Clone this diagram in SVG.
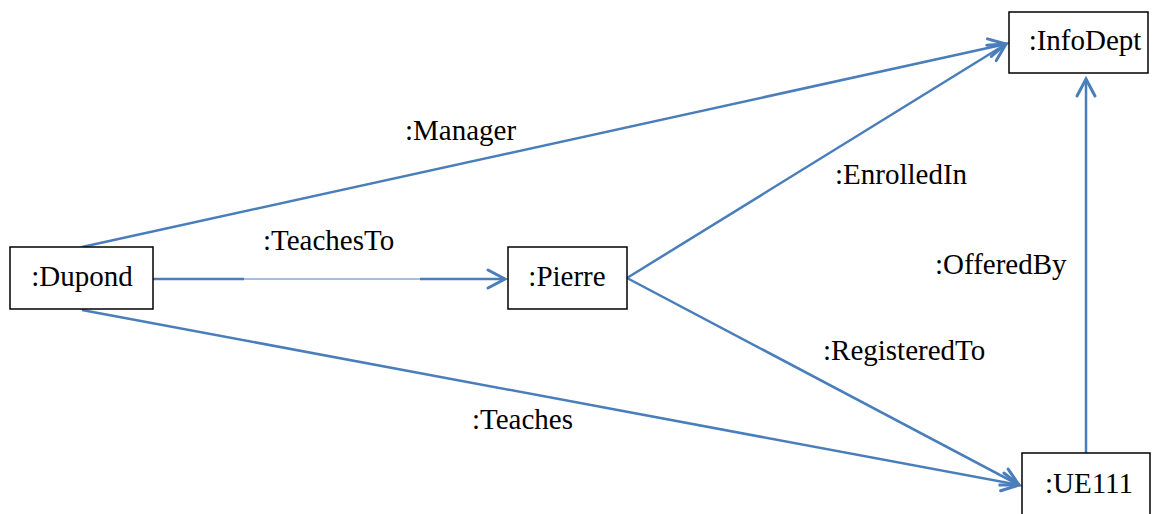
<svg xmlns="http://www.w3.org/2000/svg" width="1157" height="514" viewBox="0 0 1157 514">
  <style>
    .box { fill: #ffffff; stroke: #000000; stroke-width: 1.5; }
    text { font-family: "Liberation Serif", "Times New Roman", "DejaVu Serif", serif; font-size: 29px; fill: #000000; }
    .name { text-anchor: middle; }
    .link { fill: none; stroke: #4a7ebb; stroke-width: 2.5; }
    .thin { fill: none; stroke: #4a7ebb; stroke-width: 1.2; }
  </style>
  <defs>
    <!-- open V arrowhead shared by every association -->
    <marker id="open-arrow" markerUnits="userSpaceOnUse" markerWidth="30" markerHeight="30" viewBox="-22 -15 30 30" refX="0" refY="0" orient="auto" overflow="visible">
      <path d="M -17 -9 L 0 0 L -17 9" fill="none" stroke="#4a7ebb" stroke-width="3" stroke-linecap="round" stroke-linejoin="miter"/>
    </marker>
  </defs>

  <rect width="1157" height="514" fill="#ffffff"/>

  <g id="connectors">
    <line class="link" x1="82" y1="247" x2="1006" y2="44" marker-end="url(#open-arrow)"/>
    <line class="link" x1="627" y1="278" x2="1006" y2="44" marker-end="url(#open-arrow)"/>
    <line class="link" x1="153" y1="279" x2="244" y2="279"/>
    <line class="thin" x1="244" y1="279" x2="420" y2="279"/>
    <line class="link" x1="420" y1="279" x2="505" y2="279" marker-end="url(#open-arrow)"/>
    <line class="link" x1="627" y1="278" x2="1019" y2="485" marker-end="url(#open-arrow)"/>
    <line class="link" x1="82" y1="310" x2="1019" y2="485" marker-end="url(#open-arrow)"/>
    <line class="link" x1="1086" y1="453" x2="1086" y2="79" marker-end="url(#open-arrow)"/>
    <text x="405" y="140">:Manager</text>
    <text x="263" y="250">:TeachesTo</text>
    <text x="835" y="184">:EnrolledIn</text>
    <text x="823" y="360">:RegisteredTo</text>
    <text x="935" y="274">:OfferedBy</text>
    <text x="472" y="429">:Teaches</text>
  </g>

  <g id="dupond">
    <rect class="box" x="10" y="247" width="143" height="62"/>
    <text class="name" x="82" y="286">:Dupond</text>
  </g>
  <g id="pierre">
    <rect class="box" x="508" y="247" width="119" height="62"/>
    <text class="name" x="567" y="286">:Pierre</text>
  </g>
  <g id="infodept">
    <rect class="box" x="1009" y="12" width="139" height="61"/>
    <text class="name" x="1085" y="50">:InfoDept</text>
  </g>
  <g id="ue111">
    <rect class="box" x="1022" y="453" width="128" height="70"/>
    <text class="name" x="1089" y="493">:UE111</text>
  </g>
</svg>
